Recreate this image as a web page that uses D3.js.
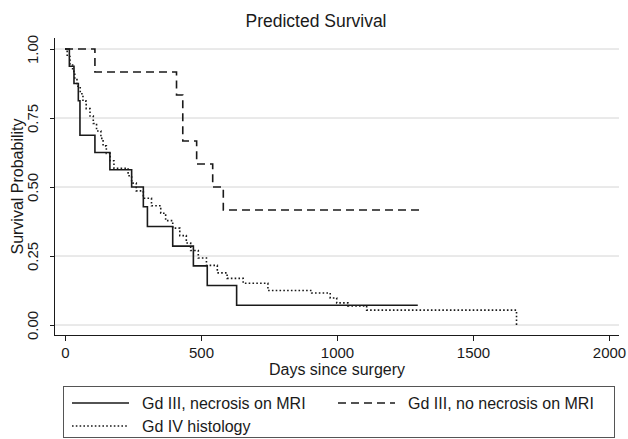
<!DOCTYPE html>
<html>
<head>
<meta charset="utf-8">
<script src="https://cdn.jsdelivr.net/npm/d3@7"></script>
<style>
  html, body { margin: 0; padding: 0; background: #fff; }
  svg { display: block; font-family: "Liberation Sans", Arial, sans-serif; }
</style>
</head>
<body>
<div id="chart"></div>
<script>
// Kaplan-Meier style step data
const necrosisTimes = [16, 33, 49, 55, 110, 165, 245, 288, 303, 396, 472, 523, 631];
const necrosisSurv = [0.9375, 0.875, 0.8125, 0.6875, 0.625, 0.5625, 0.5, 0.4286, 0.3571, 0.2857, 0.2143, 0.1429, 0.0714];
const necrosisEnd = 1297;

const noNecrosisTimes = [110, 410, 433, 484, 543, 582];
const noNecrosisSurv = [0.9167, 0.8333, 0.6667, 0.5833, 0.5, 0.4167];
const noNecrosisEnd = 1305;

const gd4Times = [8, 18, 28, 36, 44, 56, 66, 78, 92, 104, 116, 132, 140, 152, 166, 180, 232, 245, 262, 288,
  318, 352, 370, 396, 422, 446, 462, 490, 520, 560, 596, 655, 746, 907, 975, 999, 1040, 1109, 1660];
const gd4Surv = [0.973, 0.946, 0.919, 0.892, 0.865, 0.838, 0.811, 0.784, 0.757, 0.730, 0.703, 0.676, 0.649,
  0.622, 0.595, 0.568, 0.541, 0.514, 0.486, 0.459, 0.432, 0.405, 0.378, 0.351, 0.324, 0.297, 0.270, 0.243,
  0.216, 0.189, 0.169, 0.151, 0.125, 0.116, 0.098, 0.080, 0.069, 0.054, 0];
const gd4End = 1660;

const xTicks = [0, 500, 1000, 1500, 2000];
const yTicks = [0, 0.25, 0.5, 0.75, 1];

const seriesNames = ["Gd III, necrosis on MRI", "Gd III, no necrosis on MRI", "Gd IV histology"];

const width = 628;
const height = 439;
const plot = { left: 55, right: 619, top: 38, bottom: 335 };
const ink = "#1a1a1a";

const svg = d3.select("#chart")
  .append("svg")
  .attr("width", width)
  .attr("height", height);

const x = d3.scaleLinear().domain([0, 2000]).range([65, 609]);
const y = d3.scaleLinear().domain([0, 1]).range([325, 49]);

// title
svg.append("text")
  .attr("x", 316)
  .attr("y", 27)
  .attr("text-anchor", "middle")
  .style("font-size", "17.5px")
  .style("fill", ink)
  .text("Predicted Survival");

// gridlines
svg.append("g")
  .selectAll("line")
  .data(yTicks)
  .join("line")
  .attr("x1", plot.left)
  .attr("x2", plot.right)
  .attr("y1", (d) => y(d))
  .attr("y2", (d) => y(d))
  .attr("stroke", "#d4d4d4")
  .attr("stroke-width", 1);

// curves
function stepPoints(times, surv, end) {
  const pts = [[0, 1]];
  times.forEach((t, i) => pts.push([t, surv[i]]));
  pts.push([end, surv[surv.length - 1]]);
  return pts;
}

const line = d3.line()
  .x((d) => x(d[0]))
  .y((d) => y(d[1]))
  .curve(d3.curveStepAfter);

const series = [
  { pts: stepPoints(gd4Times, gd4Surv, gd4End), dash: "1.6,2.2" },
  { pts: stepPoints(noNecrosisTimes, noNecrosisSurv, noNecrosisEnd), dash: "8,5" },
  { pts: stepPoints(necrosisTimes, necrosisSurv, necrosisEnd), dash: null },
];

svg.append("g")
  .selectAll("path")
  .data(series)
  .join("path")
  .attr("d", (d) => line(d.pts))
  .attr("fill", "none")
  .attr("stroke", ink)
  .attr("stroke-width", 1.6)
  .attr("stroke-dasharray", (d) => d.dash);

// axes
const xAxis = svg.append("g")
  .attr("transform", `translate(0,${plot.bottom})`)
  .call(d3.axisBottom(x).tickValues(xTicks).tickSize(6).tickPadding(4).tickFormat(d3.format("d")));
xAxis.select(".domain").remove();
xAxis.selectAll("line").attr("stroke", ink);
xAxis.selectAll("text")
  .attr("dy", 0)
  .attr("y", 22.5)
  .style("font-size", "15px")
  .style("font-family", "Liberation Sans, Arial, sans-serif")
  .style("fill", ink);

svg.append("line")
  .attr("x1", plot.left).attr("x2", plot.right)
  .attr("y1", plot.bottom + 0.5).attr("y2", plot.bottom + 0.5)
  .attr("stroke", ink);

const yAxis = svg.append("g")
  .attr("transform", `translate(${plot.left},0)`)
  .call(d3.axisLeft(y).tickValues(yTicks).tickSize(5).tickFormat(d3.format(".2f")));
yAxis.select(".domain").remove();
yAxis.selectAll("line").attr("stroke", ink);
yAxis.selectAll("text")
  .attr("x", 0)
  .attr("y", -17)
  .attr("dy", 0)
  .attr("text-anchor", "middle")
  .attr("transform", "rotate(-90)")
  .style("font-size", "15px")
  .style("font-family", "Liberation Sans, Arial, sans-serif")
  .style("fill", ink);

svg.append("line")
  .attr("x1", plot.left - 0.5).attr("x2", plot.left - 0.5)
  .attr("y1", plot.top).attr("y2", plot.bottom + 1)
  .attr("stroke", ink);

// axis titles
svg.append("text")
  .attr("x", (plot.left + plot.right) / 2)
  .attr("y", 375)
  .attr("text-anchor", "middle")
  .style("font-size", "16px")
  .style("fill", ink)
  .text("Days since surgery");

svg.append("text")
  .attr("transform", `translate(22.5,${(plot.top + plot.bottom) / 2}) rotate(-90)`)
  .attr("text-anchor", "middle")
  .style("font-size", "16px")
  .style("fill", ink)
  .text("Survival Probability");

// legend
const legend = svg.append("g");
legend.append("rect")
  .attr("x", 63.5)
  .attr("y", 386.5)
  .attr("width", 551)
  .attr("height", 51)
  .attr("fill", "none")
  .attr("stroke", "#555");

const legendItems = [
  { name: seriesNames[0], dash: null, x: 72, y: 403 },
  { name: seriesNames[1], dash: "8,5", x: 338, y: 403 },
  { name: seriesNames[2], dash: "1.6,2.2", x: 72, y: 426 },
];

const li = legend.selectAll(".legend-item")
  .data(legendItems)
  .join("g")
  .attr("class", "legend-item")
  .attr("transform", (d) => `translate(${d.x},${d.y})`);

li.append("line")
  .attr("x1", 0).attr("x2", 57)
  .attr("y1", 0).attr("y2", 0)
  .attr("stroke", ink)
  .attr("stroke-width", 1.6)
  .attr("stroke-dasharray", (d) => d.dash);

li.append("text")
  .attr("x", 70)
  .attr("y", 5.5)
  .style("font-size", "16px")
  .style("fill", ink)
  .text((d) => d.name);
</script>
</body>
</html>
